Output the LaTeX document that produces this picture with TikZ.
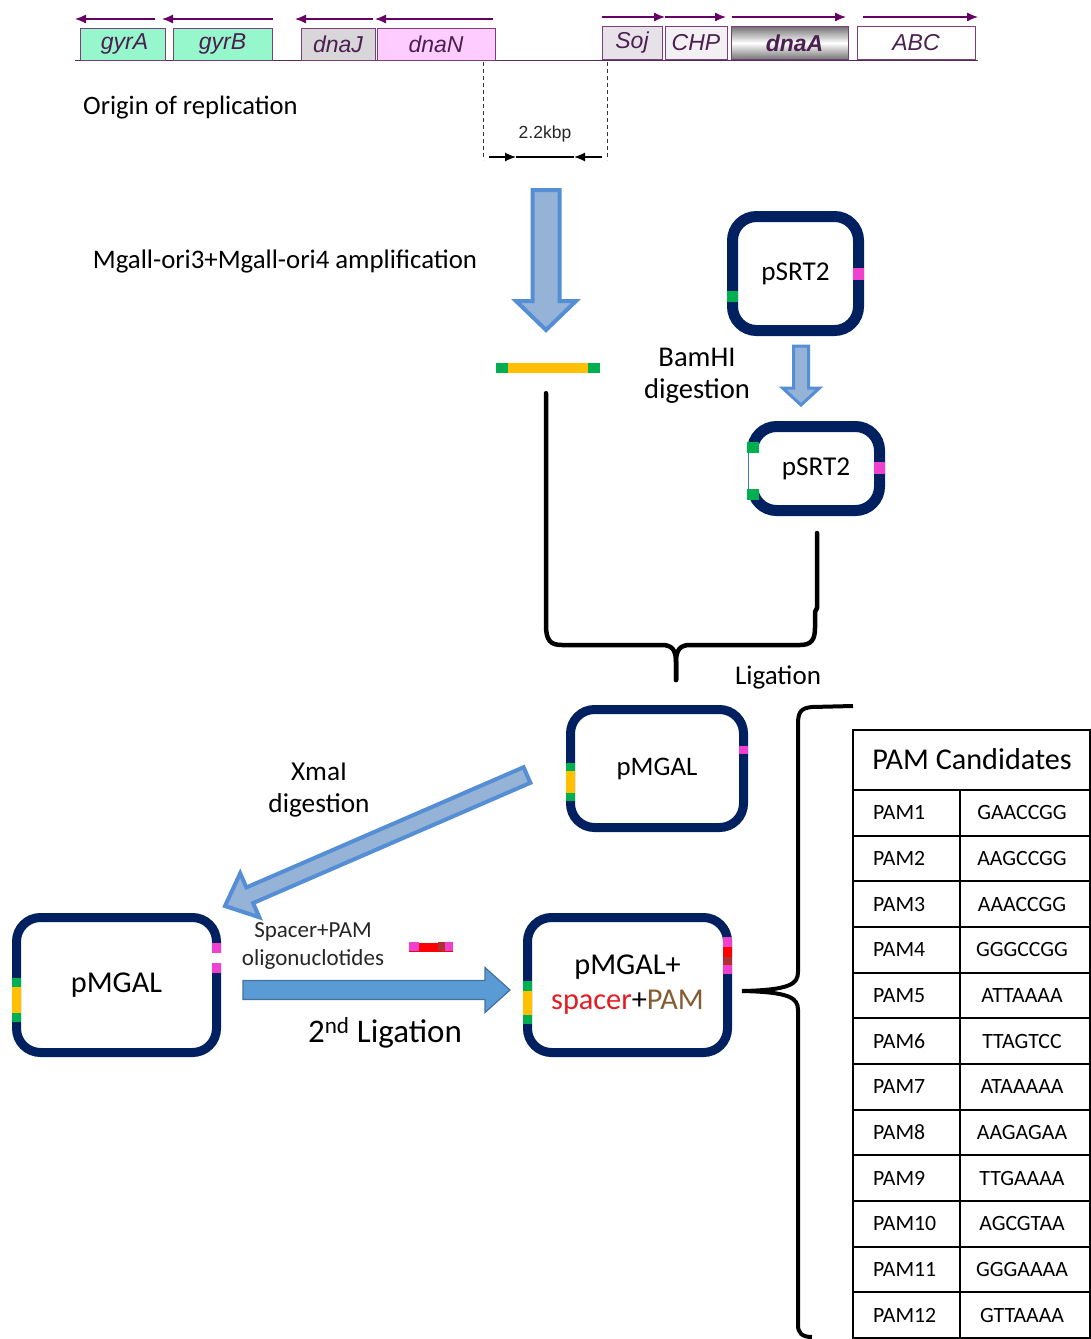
\documentclass[tikz,border=0pt]{standalone}
\usepackage{fontspec}
\setmainfont{Carlito}
\newfontfamily\arialf{Liberation Sans}
\usetikzlibrary{calc,arrows.meta}
\definecolor{navy}{HTML}{002060}
\definecolor{pgreen}{HTML}{00B050}
\definecolor{pyellow}{HTML}{FFC000}
\definecolor{pmag}{HTML}{F040D0}
\definecolor{pred}{HTML}{FF0000}
\definecolor{pdred}{HTML}{B03030}
\definecolor{barfill}{HTML}{95B3D7}
\definecolor{barline}{HTML}{558ED5}
\definecolor{harfill}{HTML}{5B9BD5}
\definecolor{harline}{HTML}{41719C}
\definecolor{genebd}{HTML}{7A3F7A}
\definecolor{genetxt}{HTML}{4B1F4F}
\definecolor{genearr}{HTML}{660066}
\definecolor{mint}{HTML}{95F7CB}
\definecolor{ltgray}{HTML}{D9D6D9}
\definecolor{ltpink}{HTML}{FFCCFF}
\definecolor{sojgray}{HTML}{E6E2E8}
\definecolor{chpgray}{HTML}{F3F0F3}
\definecolor{spred}{HTML}{E31B23}
\definecolor{pambrown}{HTML}{845C30}
\definecolor{cutblue}{HTML}{4472C4}
\newcommand\blockarrow[6]{%
  \coordinate (ba-hb) at ($(#3)!#6!(#2)$);
  \path[#1] ($(#2)!#4!90:(#3)$) -- ($(ba-hb)!#4!-90:(#2)$) -- ($(ba-hb)!#5!-90:(#2)$) -- (#3)
    -- ($(ba-hb)!#5!90:(#2)$) -- ($(ba-hb)!#4!90:(#2)$) -- ($(#2)!#4!-90:(#3)$) -- cycle;
}
\begin{document}
\begin{tikzpicture}[x=1pt,y=-1pt,
  genebox/.style={draw=genebd, line width=1pt, minimum height=32pt, inner sep=0pt,
    font=\arialf\itshape\fontsize{23}{23}\selectfont, text=genetxt},
  garr/.style={draw=genearr, line width=1.3pt, -{Latex[length=11pt,width=9pt]}},
  plasmid/.style={draw=navy, fill=white, rounded corners=24pt, inner sep=0pt, align=center},
  lbl/.style={inner sep=0pt, align=center},
  bigarr/.style={fill=barfill, draw=barline, line width=4pt, line join=miter},
  harr/.style={fill=harfill, draw=harline, line width=1.2pt, line join=miter},
  brk/.style={draw=black, line width=4.5pt, line join=round, line cap=round},
  tbl/.style={draw=black, line width=2pt},
  cell/.style={inner sep=0pt, font=\fontsize{21.8}{21.8}\selectfont}
]
\useasboundingbox (0,0) rectangle (1091,1339);

% ---------- gene map ----------
\draw[genebd!70!black, line width=1pt] (75,60) -- (978,60);
\node[genebox, fill=mint, minimum width=85pt] (gyrA) at (122.5,44) {\hspace*{4pt}gyrA};
\node[genebox, fill=mint, minimum width=99pt] (gyrB) at (222.5,44) {gyrB};
\node[genebox, fill=ltgray, minimum width=74pt] (dnaJ) at (338,44) {dnaJ};
\node[genebox, fill=ltpink, minimum width=118pt] (dnaN) at (436,44) {dnaN};
\node[genebox, fill=sojgray, minimum width=60pt, minimum height=33pt] (soj) at (632,43) {Soj};
\node[genebox, fill=chpgray, minimum width=62pt, minimum height=33pt] (chp) at (696,43) {CHP};
\node[genebox, top color=black!55, bottom color=black!55, middle color=white, minimum width=117pt, minimum height=33pt,
  font=\arialf\bfseries\itshape\fontsize{23}{23}\selectfont] (dnaA) at (789.5,43) {\hspace*{10pt}dnaA};
\node[genebox, fill=white, minimum width=118pt, minimum height=33pt] (abc) at (916,43) {ABC};

\draw[garr] (155,19) -- (75,19);
\draw[garr] (273,19) -- (162,19);
\draw[garr] (373,19) -- (295,19);
\draw[garr] (493,19) -- (375,19);
\draw[garr] (602,17) -- (665,17);
\draw[garr] (665,17) -- (726,17);
\draw[garr] (732,17) -- (846,17);
\draw[garr] (863,17) -- (978,17);

% dimension
\coordinate (dl1) at (483,62); \coordinate (dl2) at (483,160);
\coordinate (dr1) at (607,62); \coordinate (dr2) at (607,160);
\draw[black!80, line width=1pt, dash pattern=on 4pt off 3pt] (dl1) -- (dl2);
\draw[black!80, line width=1pt, dash pattern=on 4pt off 3pt] (dr1) -- (dr2);
\coordinate (m1) at (489,157); \coordinate (m2) at (516,157);
\coordinate (m3) at (574,157); \coordinate (m4) at (602,157);
\draw[black, line width=1.2pt, -{Latex[length=11pt,width=9pt]}] (m1) -- (m2);
\draw[black, line width=1.2pt] (m2) -- (m3);
\draw[black, line width=1.2pt, {Latex[length=11pt,width=9pt]}-] (m3) -- (m4);
\node[lbl, font=\arialf\fontsize{17.5}{17.5}\selectfont, text=black!85] (kbp) at (545,134) {2.2kbp};

\node[lbl, anchor=west, font=\fontsize{26.6}{26.6}\selectfont] (origin) at (83,108) {Origin of replication};
\node[lbl, font=\fontsize{26.8}{26.8}\selectfont] (ampl) at (285,261) {Mgall-ori3+Mgall-ori4 amplification};

% big down arrow
\coordinate (da1) at (546,190); \coordinate (da2) at (546,330);
\blockarrow{bigarr}{da1}{da2}{13.5pt}{30pt}{29pt}

% fragment
\node[fill=pyellow, minimum width=104pt, minimum height=10pt, inner sep=0pt] (frag) at (548,368) {};
\fill[pgreen] (frag.north west) rectangle ++(12,10);
\fill[pgreen] (frag.north east) rectangle ++(-12,10);

% pSRT2 top
\node[plasmid, line width=11pt, minimum width=126pt, minimum height=114pt, font=\fontsize{27.2}{27.2}\selectfont] (psrtA) at (795.5,273.5) {pSRT2};
\fill[pgreen] (727,291) rectangle (738,302);
\fill[pmag] (853,268) rectangle (864,280);

% small arrow
\coordinate (sa1) at (801,346); \coordinate (sa2) at (801,405);
\blockarrow{bigarr, line width=3pt}{sa1}{sa2}{7.5pt}{18.5pt}{17pt}
\node[lbl, font=\fontsize{28.6}{32}\selectfont] (bam) at (697,376) {BamHI\\digestion};

% pSRT2 bottom
\node[plasmid, line width=11pt, minimum width=127pt, minimum height=84pt, font=\fontsize{27.2}{27.2}\selectfont] (psrtB) at (816,468.5) {pSRT2};
\fill[white] (746,453) rectangle (759,489);
\draw[cutblue, line width=1pt] (748,442) -- (748,500);
\fill[pgreen] (747,442) rectangle (759,453);
\fill[pgreen] (747,489) rectangle (759,500);
\fill[pmag] (874,462) rectangle (885,474);

% ligation bracket
\coordinate (fragline) at ($(frag.south)+(-2,20)$);
\coordinate (psrtline) at ($(psrtB.south)+(1,17)$);
\coordinate (ligtip) at (676,680);
\draw[brk] (fragline) -- (546,625) .. controls (546,640) and (550,645) .. (562,645) -- (662,645)
  .. controls (672,645) and (676,650) .. (676,662) -- (ligtip);
\draw[brk] (ligtip) -- (676,662) .. controls (676,650) and (680,645) .. (690,645) -- (800,645)
  .. controls (811,645) and (815,640) .. (815,628) -- (815,612) -- (817,608) -- (psrtline);
\node[lbl, font=\fontsize{27}{27}\selectfont] (lig) at (778,677) {Ligation};

% pMGAL middle
\node[plasmid, line width=9pt, minimum width=173pt, minimum height=118pt, font=\fontsize{26.8}{26.8}\selectfont] (pmgA) at (657,768.5) {pMGAL};
\fill[pgreen] (566,763) rectangle (575,771);
\fill[pyellow] (566,771) rectangle (575,793);
\fill[pgreen] (566,793) rectangle (575,801);
\fill[pmag] (739,746) rectangle (748,754);

% XmaI arrow
\coordinate (xa1) at (527,775); \coordinate (xa2) at (225,906);
\blockarrow{bigarr}{xa1}{xa2}{8.5pt}{24pt}{27pt}
\node[lbl, font=\fontsize{27.3}{32}\selectfont] (xma) at (319,790) {XmaI\\digestion};

% pMGAL left
\node[plasmid, line width=9pt, minimum width=200pt, minimum height=135pt, font=\fontsize{30.3}{30.3}\selectfont] (pmgB) at (116.5,985) {pMGAL};
\fill[pgreen] (12,978) rectangle (21,987);
\fill[pyellow] (12,987) rectangle (21,1013);
\fill[pgreen] (12,1013) rectangle (21,1022);
\fill[pmag] (212,943) rectangle (221,953);
\fill[white] (211,953) rectangle (222,963);
\fill[pmag] (212,963) rectangle (221,973);

\node[lbl, font=\fontsize{23}{28}\selectfont, text=black!85] (oligo) at (313,946) {Spacer+PAM\\oligonuclotides};
% oligo
\node[fill=pred, minimum width=44pt, minimum height=9pt, inner sep=0pt] (olig) at (431,947) {};
\fill[pmag] (olig.north west) rectangle ++(10,9);
\fill[pdred] ($(olig.north east)+(-15,0)$) rectangle ++(7,9);
\fill[pmag] (olig.north east) rectangle ++(-8,9);

% horizontal arrow
\coordinate (ha1) at (243,990); \coordinate (ha2) at (510,990);
\blockarrow{harr}{ha1}{ha2}{9.5pt}{22.5pt}{25pt}
\node[lbl, font=\fontsize{33}{33}\selectfont] (lig2) at (385,1033) {2\textsuperscript{nd} Ligation};

% pMGAL+
\node[plasmid, line width=9pt, minimum width=200pt, minimum height=135pt, font=\fontsize{30.3}{35}\selectfont] (pmgC) at (627.5,985)
  {pMGAL+\\\textcolor{spred}{spacer}+\textcolor{pambrown}{PAM}};
\fill[pgreen] (523,981) rectangle (532,991);
\fill[pyellow] (523,991) rectangle (532,1015);
\fill[pgreen] (523,1015) rectangle (532,1024);
\fill[pmag] (723,937) rectangle (732,947);
\fill[pred] (723,947) rectangle (732,957);
\fill[pdred] (723,957) rectangle (732,965);
\fill[pmag] (723,965) rectangle (732,974);

% right curly brace
\coordinate (brtop) at (853,706);
\coordinate (brtip) at (742,991);
\coordinate (brbot) at (812,1337);
\draw[brk, line width=4pt, line cap=butt] (brtop) -- (812,707) .. controls (801,708) and (798,712) .. (798,724) -- (798,972)
  .. controls (798,984) and (790,990) .. (brtip);
\draw[brk, line width=4pt, line cap=butt] (brtip) .. controls (790,992) and (798,998) .. (798,1010) -- (798,1325)
  .. controls (798,1333) and (802,1337) .. (brbot);

% table
\draw[tbl] (853,730) rectangle (1090,1338);
\draw[tbl] (853,790) -- (1090,790);
\draw[tbl] (960,790) -- (960,1338);
\foreach \k in {1,...,11} {
  \draw[tbl] (853,{790+\k*45.67}) -- (1090,{790+\k*45.67});
}
\node[lbl, font=\fontsize{30.2}{30.2}\selectfont] (pamhead) at (972,759) {PAM Candidates};
\foreach \i/\s in {1/GAACCGG,2/AAGCCGG,3/AAACCGG,4/GGGCCGG,5/ATTAAAA,6/TTAGTCC,7/ATAAAAA,8/AAGAGAA,9/TTGAAAA,10/AGCGTAA,11/GGGAAAA,12/GTTAAAA} {
  \node[cell, anchor=west] (pn\i) at (873,{790+(\i-0.5)*45.67}) {PAM\i};
  \node[cell] (ps\i) at (1022,{790+(\i-0.5)*45.67}) {\s};
}
\end{tikzpicture}
\end{document}
